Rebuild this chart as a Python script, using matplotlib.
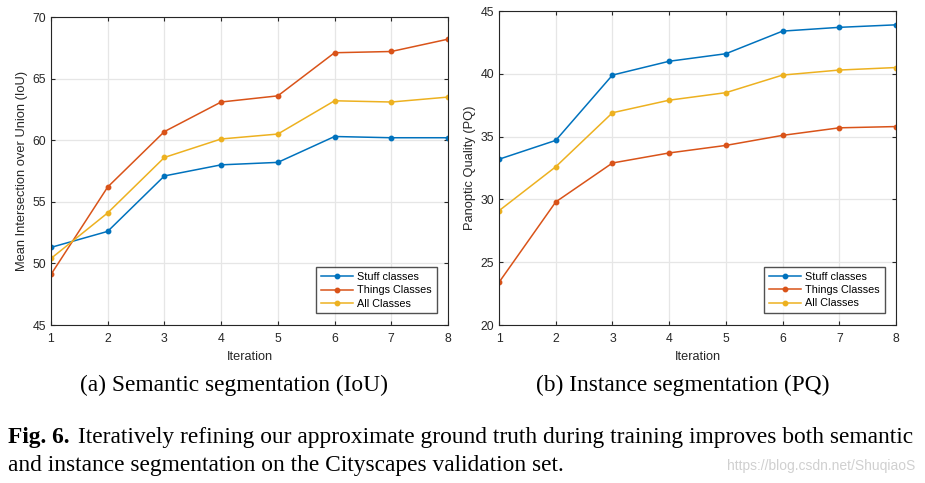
import numpy as np
from matplotlib import pyplot as plt

iters = [1, 2, 3, 4, 5, 6, 7, 8]
labels = ["Stuff classes", "Things Classes", "All Classes"]
colors = ["#0072BD", "#D95319", "#EDB120"]

# (a) mean IoU
iou_stuff = [51.3, 52.6, 57.1, 58.0, 58.2, 60.3, 60.2, 60.2]
iou_things = [49.1, 56.2, 60.7, 63.1, 63.6, 67.1, 67.2, 68.2]
iou_all = [50.4, 54.1, 58.6, 60.1, 60.5, 63.2, 63.1, 63.5]

# (b) PQ
pq_stuff = [33.2, 34.7, 39.9, 41.0, 41.6, 43.4, 43.7, 43.9]
pq_things = [23.4, 29.8, 32.9, 33.7, 34.3, 35.1, 35.7, 35.8]
pq_all = [29.1, 32.6, 36.9, 37.9, 38.5, 39.9, 40.3, 40.5]

plt.rcParams['font.family'] = ['Liberation Sans', 'DejaVu Sans']

fig = plt.figure(figsize=(9.25, 4.83), dpi=100)
ax1 = fig.add_axes([0.0551, 0.3271, 0.4292, 0.6377])
ax2 = fig.add_axes([0.5395, 0.3271, 0.4292, 0.6501])


def draw(ax, series, ylim, yticks, ylabel):
    for ys, c, lab in zip(series, colors, labels):
        ax.plot(iters, ys, '-o', color=c, lw=1.1, ms=3.2, label=lab)
    ax.set_xlim(1, 8)
    ax.set_ylim(*ylim)
    ax.set_xticks(iters)
    ax.set_yticks(yticks)
    ax.grid(True, color='#e6e6e6', lw=0.9)
    ax.set_axisbelow(True)
    for s in ax.spines.values():
        s.set_color('#262626')
        s.set_linewidth(0.8)
    ax.tick_params(direction='in', length=3, labelsize=8.8, colors='#262626',
                   top=True, right=True)
    ax.tick_params(axis='x', pad=6)
    ax.set_xlabel("Iteration", fontsize=9.2, color='#262626', labelpad=4)
    ax.set_ylabel(ylabel, fontsize=9.3, color='#262626', labelpad=3)
    leg = ax.legend(loc='lower right', fontsize=7.8, frameon=True, fancybox=False,
                    edgecolor='#262626', borderpad=0.45, handlelength=3.0,
                    labelspacing=0.3, handletextpad=0.35,
                    bbox_to_anchor=(0.985, 0.02))
    leg.get_frame().set_linewidth(1.0)


draw(ax1, [iou_stuff, iou_things, iou_all], (45, 70), np.arange(45, 71, 5),
     "Mean Intersection over Union (IoU)")
draw(ax2, [pq_stuff, pq_things, pq_all], (20, 45), np.arange(20, 46, 5),
     "Panoptic Quality (PQ)")

serif = ['Liberation Serif', 'DejaVu Serif']
fs = 16.8
fig.text(234 / 925, 1 - 385 / 483, "(a) Semantic segmentation (IoU)",
         ha='center', va='center', fontsize=fs, family=serif)
fig.text(683 / 925, 1 - 385 / 483, "(b) Instance segmentation (PQ)",
         ha='center', va='center', fontsize=fs, family=serif)
t1 = fig.text(8 / 925, 1 - 438 / 483, "Fig. 6.", ha='left', va='center',
              fontsize=fs, family=serif, weight='bold')
fig.canvas.draw()
bb = t1.get_window_extent()
x0 = (bb.x1 + 8) / fig.bbox.width
fig.text(x0, 1 - 438 / 483,
         "Iteratively refining our approximate ground truth during training improves both semantic",
         ha='left', va='center', fontsize=fs, family=serif)
fig.text(8 / 925, 1 - 466 / 483,
         "and instance segmentation on the Cityscapes validation set.",
         ha='left', va='center', fontsize=fs, family=serif)
fig.text(915 / 925, 1 - 466 / 483, "https://blog.csdn.net/ShuqiaoS",
         ha='right', va='center', fontsize=10, color='#d0d0d0')

fig.savefig("out.png", dpi=100)
